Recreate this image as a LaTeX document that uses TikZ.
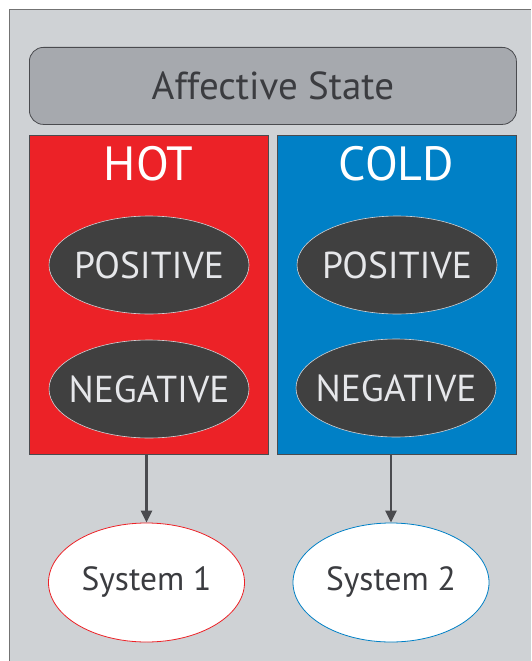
\documentclass[tikz,border=0pt]{standalone}
\usepackage{fontspec}
\setmainfont{PT Sans}
\usetikzlibrary{shapes.geometric,arrows.meta}
\definecolor{panelgray}{HTML}{CFD2D5}
\definecolor{headgray}{HTML}{A6A9AE}
\definecolor{edgegray}{HTML}{4A4B4F}
\definecolor{textdark}{HTML}{3B3C40}
\definecolor{hotred}{HTML}{EC2227}
\definecolor{coldblue}{HTML}{0080C6}
\definecolor{ovaldark}{HTML}{404040}
\definecolor{ovaltext}{HTML}{E6E7EA}
% zero-width label, nudged down a little, so the oval keeps its fixed size
\newcommand{\ovallabel}[1]{\raisebox{-3pt}{\makebox[0pt][c]{#1}}}
\tikzset{
  panelbox/.style={draw=edgegray, line width=0.8pt, minimum width=239pt, minimum height=319pt, anchor=north west},
  valence/.style={ellipse, fill=ovaldark, draw=ovaltext!80!gray, line width=0.6pt, minimum width=200pt, minimum height=98pt, text=ovaltext, font=\fontsize{37.5}{44}\selectfont, inner sep=0pt},
  sysoval/.style={ellipse, fill=white, line width=0.8pt, minimum width=196pt, minimum height=119pt, text=textdark, font=\fontsize{33.5}{40}\selectfont, inner sep=0pt},
  link/.style={draw=edgegray, line width=2.4pt, -{Triangle[length=12pt,width=11pt]}}
}
\begin{document}
\begin{tikzpicture}[x=1pt,y=-1pt]
  \useasboundingbox (0,0) rectangle (531,661);
  % outer panel
  \fill[white] (0,0) rectangle (531,661);
  \fill[panelgray] (9,9) rectangle (531,661);
  \draw[gray!90!black, line width=0.8pt] (9,661) -- (9,9) -- (531,9);
  % header
  \node[draw=edgegray, fill=headgray, rounded corners=14pt, line width=0.8pt,
        minimum width=487pt, minimum height=77pt, anchor=north west,
        text=textdark, font=\fontsize{39}{46}\selectfont] (head) at (29,47) {Affective State};
  % hot and cold panels
  \node[panelbox, fill=hotred] (hot) at (29,135) {};
  \node[panelbox, fill=coldblue] (cold) at (277,135) {};
  \node[text=white, font=\fontsize{48}{56}\selectfont] (hotlbl) at (148.5,164) {HOT};
  \node[text=white, font=\fontsize{48}{56}\selectfont] (coldlbl) at (396.5,164) {COLD};
  \node[valence] (hpos) at (149,265) {\ovallabel{POSITIVE}};
  \node[valence] (hneg) at (149,389) {\ovallabel{NEGATIVE}};
  \node[valence] (cpos) at (397,265) {\ovallabel{POSITIVE}};
  \node[valence] (cneg) at (396,388) {\ovallabel{NEGATIVE}};
  % systems
  \node[sysoval, draw=hotred] (sys1) at (146.5,582.5) {\ovallabel{System 1}};
  \node[sysoval, draw=coldblue] (sys2) at (391,582.5) {\ovallabel{System 2}};
  \draw[link] (hot.south -| sys1.north) -- (sys1.north);
  \draw[link] (cold.south -| sys2.north) -- (sys2.north);
\end{tikzpicture}
\end{document}
